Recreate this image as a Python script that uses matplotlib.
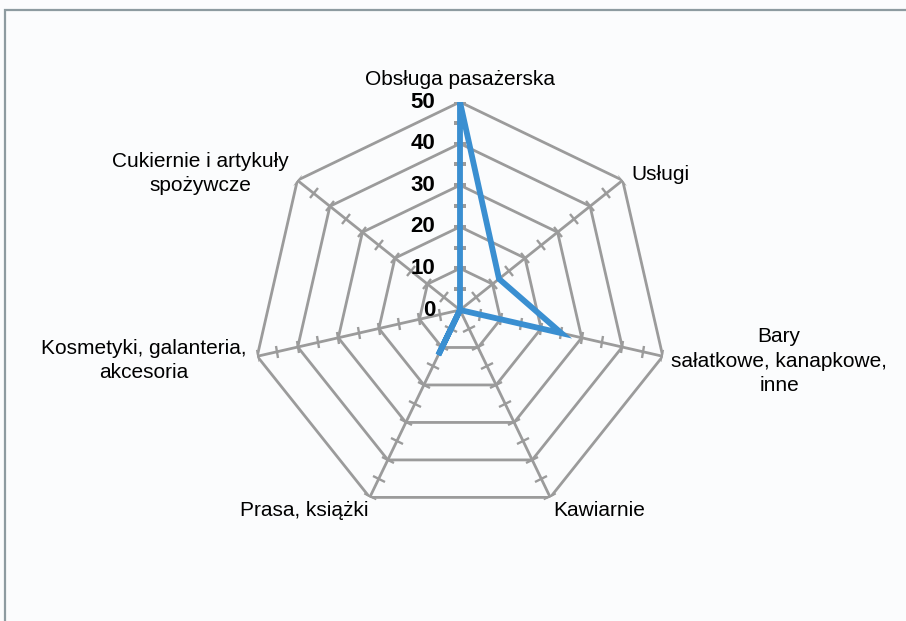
import numpy as np
import matplotlib

matplotlib.use("Agg")

import matplotlib.pyplot as plt
from matplotlib.markers import MarkerStyle
from matplotlib.patches import Rectangle
from matplotlib.transforms import Affine2D

categories = [
    "Obsługa pasażerska",
    "Usługi",
    "Bary\nsałatkowe, kanapkowe,\ninne",
    "Kawiarnie",
    "Prasa, książki",
    "Kosmetyki, galanteria,\nakcesoria",
    "Cukiernie i artykuły\nspożywcze",
]
values = [50, 12, 25, 0, 12, 0, 0]
rings = [10, 20, 30, 40, 50]
minor_ticks = [5, 10, 15, 20, 25, 30, 35, 40, 45, 50]
tick_labels = ["0", "10", "20", "30", "40", "50"]

grid_color = "#9b9b9b"
line_color = "#3a8fd1"

plt.rcParams["font.family"] = ["Liberation Sans", "DejaVu Sans"]

fig = plt.figure(figsize=(9.06, 6.21), dpi=100)
fig.patch.set_facecolor("#fbfcfd")

cx, cy, rad = 460, 310, 208
W, H = 906, 621
ax = fig.add_axes([(cx - rad) / W, (H - cy - rad) / H, 2 * rad / W, 2 * rad / H], projection="polar")
ax.set_theta_zero_location("N")
ax.set_theta_direction(-1)
ax.set_ylim(0, 50)
ax.grid(False)
ax.spines["polar"].set_visible(False)
ax.set_xticks([])
ax.set_yticks([])
ax.patch.set_alpha(0)

n = len(categories)
angles = np.arange(n) * 2 * np.pi / n
closed = np.append(angles, angles[0])

# heptagon rings
for r in rings:
    ax.plot(closed, [r] * (n + 1), color=grid_color, lw=2, zorder=1)

# spokes with small cross ticks
for a in angles:
    ax.plot([a, a], [0, 50], color=grid_color, lw=2, zorder=1)
    marker = MarkerStyle("_", transform=Affine2D().rotate_deg(-np.degrees(a)))
    ax.plot([a] * len(minor_ticks), minor_ticks, ls="", marker=marker,
            ms=9, mew=1.7, color=grid_color, zorder=1)

# data line
ax.plot(np.append(angles, angles[0]), values + values[:1], color=line_color,
        lw=4.2, solid_joinstyle="miter", zorder=3)

# radial tick labels
for i, lab in enumerate(tick_labels):
    ax.annotate(lab, xy=(0, i * 10), xytext=(-18, 0), textcoords="offset points",
                ha="right", va="center", fontsize=16, fontweight="bold", zorder=4)

# category labels (offsets in points from each outer vertex)
label_pos = [
    ((0, 16), "center", "center"),
    ((6.5, 4.5), "left", "center"),
    ((6, -3.5), "left", "center"),
    ((2, -9.5), "left", "center"),
    ((-1, -9.5), "right", "center"),
    ((-8, -3), "right", "center"),
    ((-6.5, 4.7), "right", "center"),
]
for a, lab, (off, ha, va) in zip(angles, categories, label_pos):
    ax.annotate(lab, xy=(a, 50), xytext=off, textcoords="offset points",
                ha=ha, va=va, multialignment="center", fontsize=15,
                linespacing=1.36, annotation_clip=False)

fig.add_artist(Rectangle((5 / W, -0.1), 1.2, (H - 10) / H + 0.1,
                         transform=fig.transFigure, fill=False,
                         edgecolor="#8d9ba0", lw=1.6))

fig.savefig("out.png", dpi=100, facecolor=fig.get_facecolor())
